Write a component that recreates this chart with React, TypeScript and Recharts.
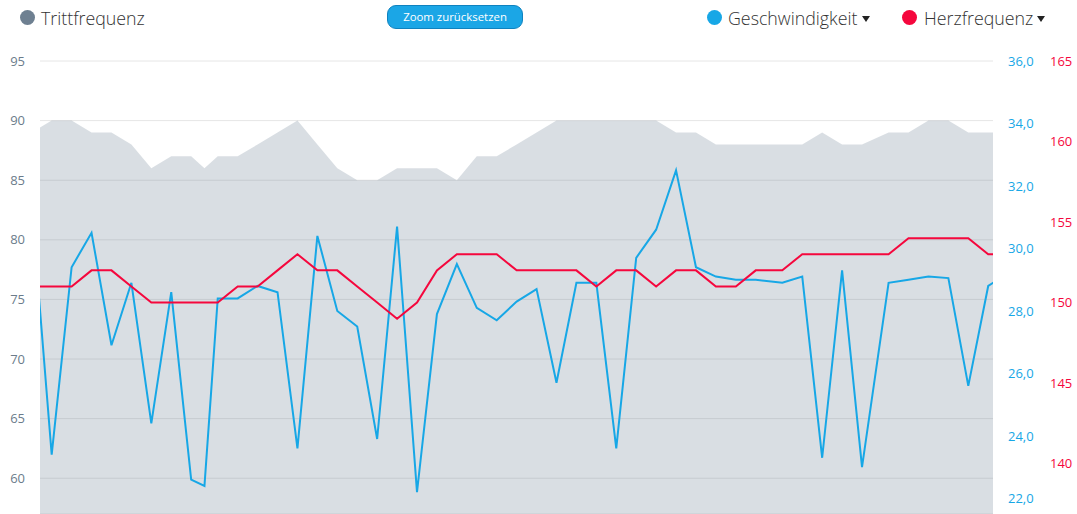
import { ComposedChart, Area, Line, XAxis, YAxis, CartesianGrid } from 'recharts'

// Zeit in Sekunden (Ausschnitt nach dem Zoomen)
const zeit = [
    0, 3, 6, 9, 12, 15, 18, 21, 24, 26, 28, 31, 34, 37, 40, 43, 46, 49, 52, 55, 58, 61, 64, 67, 70,
    73, 76, 79, 82, 85, 88, 91, 94, 97, 100, 103, 106, 109, 113, 116, 119, 122, 125, 129, 132, 135,
    138, 141, 144, 147,
]
const trittfrequenz = [
    89, 90, 90, 89, 89, 88, 86, 87, 87, 86, 87, 87, 88, 89, 90, 88, 86, 85, 85, 86, 86, 86, 85, 87, 87,
    88, 89, 90, 90, 90, 90, 90, 90, 89, 89, 88, 88, 88, 88, 88, 89, 88, 88, 89, 89, 90,
    90, 89, 89, 89,
]
const geschwindigkeit = [
    31.3, 23.4, 29.4, 30.5, 26.9, 28.9, 24.4, 28.6, 22.6, 22.4, 28.4, 28.4, 28.8, 28.6, 23.6, 30.4,
    28.0, 27.5, 23.9, 30.7, 22.2, 27.9, 29.5, 28.1, 27.7, 28.3, 28.7, 25.7, 28.9, 28.9, 23.6, 29.7,
    30.6, 32.5, 29.4, 29.1, 29.0, 29.0, 28.9, 29.1, 23.3, 29.3, 23.0, 28.9, 29.0, 29.1, 29.05,
    25.6, 28.8, 29.2,
]
const herzfrequenz = [
    151, 151, 151, 152, 152, 151, 150, 150, 150, 150, 150, 151, 151, 152, 153, 152, 152, 151, 150, 149,
    150, 152, 153, 153, 153, 152, 152, 152, 152, 151, 152, 152, 151, 152, 152, 151, 151, 152, 152, 153,
    153, 153, 153, 153, 154, 154, 154, 154, 153, 153,
]

const trittTicks = [60, 65, 70, 75, 80, 85, 90, 95]
const geschwTicks = [22, 24, 26, 28, 30, 32, 34, 36]
const herzTicks = [140, 145, 150, 155, 160, 165]
const zoomBereich = [1.24, 144.72]

const GRAU = '#6e8091'
const BLAU = '#17a7e6'
const ROT = '#f5073d'

const data = zeit.map((t, i) => ({
    t,
    tritt: trittfrequenz[i],
    speed: geschwindigkeit[i],
    hf: herzfrequenz[i],
}))

function Triangle({ left }: { left: number }) {
    return (
        <div
            style={{
                position: 'absolute',
                left,
                top: 16,
                width: 0,
                height: 0,
                borderLeft: '4px solid transparent',
                borderRight: '4px solid transparent',
                borderTop: '6px solid #222',
            }}
        />
    )
}

function Marker({ left, color }: { left: number; color: string }) {
    return (
        <div
            style={{
                position: 'absolute',
                left,
                top: 10,
                width: 15,
                height: 15,
                borderRadius: '50%',
                background: color,
            }}
        />
    )
}

const legendText = {
    position: 'absolute' as const,
    top: 6,
    fontSize: 17.8,
    lineHeight: '24px',
    fontWeight: 300,
    color: '#333',
    whiteSpace: 'nowrap' as const,
}

export default function App() {
    return (
        <div
            style={{
                position: 'absolute',
                left: 0,
                top: 0,
                width: 1077,
                height: 514,
                background: '#fff',
                fontFamily: '"Open Sans", sans-serif',
                overflow: 'hidden',
            }}
        >
            <ComposedChart
                width={1077}
                height={514}
                data={data}
                margin={{ top: 61, right: 0, bottom: 0, left: 0 }}
            >
                <CartesianGrid yAxisId="tritt" vertical={false} stroke="#e6e6e6" />
                <XAxis
                    dataKey="t"
                    type="number"
                    domain={zoomBereich}
                    allowDataOverflow
                    hide
                />
                <YAxis
                    yAxisId="tritt"
                    orientation="left"
                    width={40}
                    domain={[57, 95]}
                    ticks={trittTicks}
                    interval={0}
                    axisLine={false}
                    tickLine={false}
                    tickSize={0}
                    tickMargin={15}
                    tick={{ fill: '#6b7c8b', fontSize: 13 }}
                />
                <YAxis
                    yAxisId="geschw"
                    orientation="right"
                    width={50}
                    domain={[21.5, 36]}
                    ticks={geschwTicks}
                    interval={0}
                    axisLine={false}
                    tickLine={false}
                    tickSize={0}
                    tickMargin={15}
                    tickFormatter={(v: number) => v.toFixed(1).replace('.', ',')}
                    tick={{ fill: BLAU, fontSize: 13 }}
                />
                <YAxis
                    yAxisId="herz"
                    orientation="right"
                    width={34}
                    domain={[136.87, 165]}
                    ticks={herzTicks}
                    interval={0}
                    axisLine={false}
                    tickLine={false}
                    tickSize={0}
                    tickMargin={7}
                    tick={{ fill: ROT, fontSize: 13 }}
                />
                <Area
                    yAxisId="tritt"
                    dataKey="tritt"
                    type="linear"
                    stroke="none"
                    fill={GRAU}
                    fillOpacity={0.26}
                    isAnimationActive={false}
                />
                <Line
                    yAxisId="geschw"
                    dataKey="speed"
                    type="linear"
                    stroke={BLAU}
                    strokeWidth={2}
                    dot={false}
                    isAnimationActive={false}
                />
                <Line
                    yAxisId="herz"
                    dataKey="hf"
                    type="linear"
                    stroke={ROT}
                    strokeWidth={2}
                    dot={false}
                    isAnimationActive={false}
                />
            </ComposedChart>

            <Marker left={20} color={GRAU} />
            <div style={{ ...legendText, left: 41 }}>Trittfrequenz</div>

            <div
                style={{
                    position: 'absolute',
                    left: 387,
                    top: 5,
                    width: 136,
                    height: 24,
                    boxSizing: 'border-box',
                    borderRadius: 9,
                    background: '#1ba6e6',
                    border: '1px solid #0f82bf',
                    color: '#fff',
                    fontSize: 11.4,
                    lineHeight: '22px',
                    textAlign: 'center',
                }}
            >
                Zoom zurücksetzen
            </div>

            <Marker left={707} color={BLAU} />
            <div style={{ ...legendText, left: 728 }}>Geschwindigkeit</div>
            <Triangle left={862} />

            <Marker left={902} color={ROT} />
            <div style={{ ...legendText, left: 924 }}>Herzfrequenz</div>
            <Triangle left={1037} />
        </div>
    )
}
